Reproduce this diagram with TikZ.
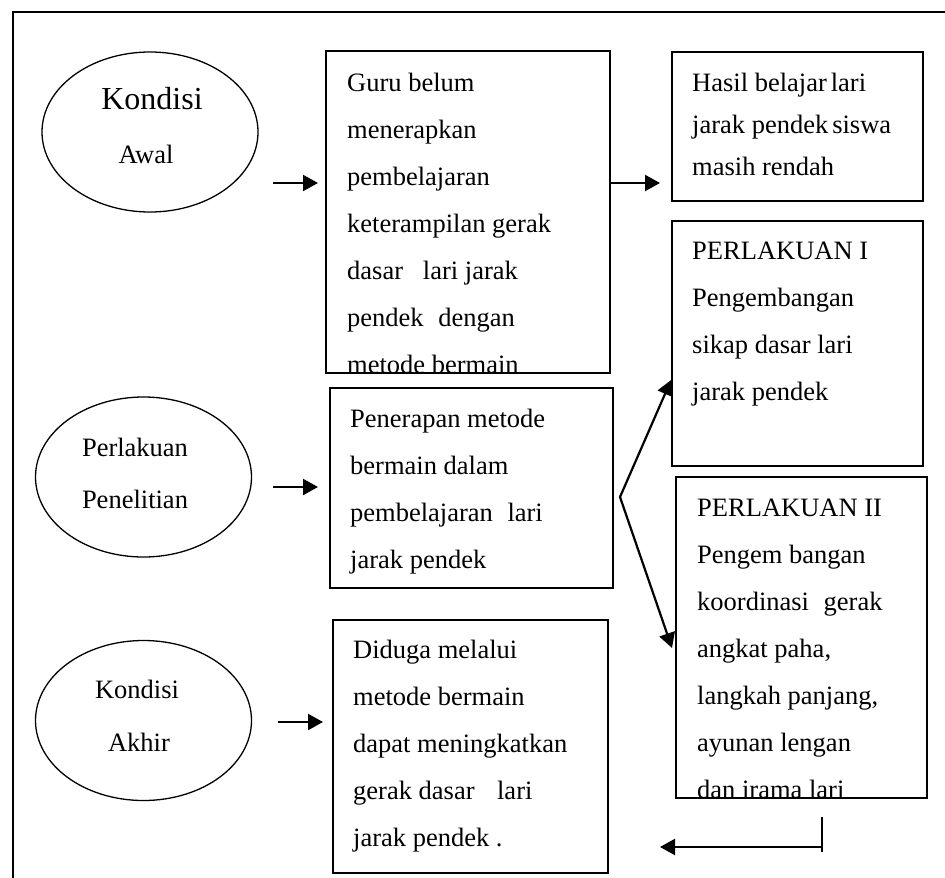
\documentclass[tikz,border=0pt]{standalone}
\usepackage{fontspec}
\setmainfont{Liberation Serif}
\usetikzlibrary{shapes.geometric,arrows.meta}

\begin{document}
\begin{tikzpicture}[x=1pt, y=-1pt,
  >={Triangle[length=15pt, width=16pt]},
  oval/.style={draw, ellipse, line width=1.3pt, inner sep=0pt, minimum width=216pt, minimum height=160pt},
  box/.style={draw, rectangle, line width=1.8pt, inner sep=0pt},
  txt/.style={anchor=north west, inner sep=0pt, align=left, font=\fontsize{26.5}{47}\selectfont},
  lbl/.style={anchor=base, inner sep=0pt, font=\fontsize{26.5}{32}\selectfont},
  arr/.style={->, line width=2.2pt}]

  \useasboundingbox (0,0) rectangle (945,878);

  % Frame
  \draw[line width=1.8pt] (13,878) -- (13,12) -- (945,12);

  % Kondisi awal
  \draw (150,132) node[oval] (awal) {};
  \draw (152,109) node[lbl, font=\fontsize{32}{38}\selectfont] (awalA) {Kondisi};
  \draw (146,163) node[lbl] (awalB) {Awal};
  \coordinate (a1s) at (273,183);
  \coordinate (a1e) at (318,183);
  \draw[arr] (a1s) -- (a1e);

  % Guru belum
  \draw (468,212) node[box, minimum width=284pt, minimum height=322pt] (guru) {};
  \draw (347,73) node[txt] (guruT) {Guru belum\\menerapkan\\pembelajaran\\keterampilan gerak\\dasar\hspace{0.5em} lari jarak\\pendek\hspace{0.3em} dengan\\metode bermain};
  \coordinate (a2e) at (660,183);
  \draw[arr] (guru.east |- a2e) -- (a2e);

  % Hasil belajar
  \draw (797.5,126.5) node[box, minimum width=251pt, minimum height=149pt] (hasil) {};
  \draw (692,73) node[txt, font=\fontsize{26.5}{42}\selectfont] (hasilT) {Hasil belajar\hspace{-0.1em} lari\\jarak pendek\hspace{-0.1em} siswa\\masih rendah};

  % Perlakuan I
  \draw (797.5,343.5) node[box, minimum width=251pt, minimum height=245pt] (perlA) {};
  \draw (692,241.5) node[txt] (perlAT) {PERLAKUAN I\\Pengembangan\\sikap dasar lari\\jarak pendek};

  % Perlakuan penelitian
  \draw (143.5,477) node[oval] (teliti) {};
  \draw (135,456) node[lbl] (telitiA) {Perlakuan};
  \draw (135,508) node[lbl] (telitiB) {Penelitian};
  \coordinate (a3s) at (273,487);
  \coordinate (a3e) at (318,487);
  \draw[arr] (a3s) -- (a3e);

  % Penerapan
  \draw (471.5,488) node[box, minimum width=283pt, minimum height=200pt] (terap) {};
  \draw (350,409) node[txt] (terapT) {Penerapan metode\\bermain dalam\\pembelajaran\hspace{0.3em} lari\\jarak pendek};

  % Cabang ke perlakuan
  \coordinate (fork) at (620,497);
  \coordinate (tipB) at (672,648);
  \draw[<->, line width=2.2pt] (perlA.west |- 0,380) -- (fork) -- (tipB);

  % Perlakuan II
  \draw (801.5,637.5) node[box, minimum width=251pt, minimum height=321pt] (perlB) {};
  \draw (697,498.5) node[txt] (perlBT) {PERLAKUAN II\\Pengem bangan\\koordinasi\hspace{0.3em} gerak\\angkat paha,\\langkah panjang,\\ayunan lengan\\dan irama lari};

  % Kondisi akhir
  \draw (143.5,720.5) node[oval] (akhir) {};
  \draw (137,698) node[lbl] (akhirA) {Kondisi};
  \draw (139,751) node[lbl] (akhirB) {Akhir};
  \coordinate (a4s) at (278,722);
  \coordinate (a4e) at (323,722);
  \draw[arr] (a4s) -- (a4e);

  % Diduga
  \draw (470.5,746.5) node[box, minimum width=275pt, minimum height=253pt] (duga) {};
  \draw (353,640) node[txt] (dugaT) {Diduga melalui\\metode bermain\\dapat meningkatkan\\gerak dasar\hspace{0.6em} lari\\jarak pendek .};

  % Kembali
  \coordinate (back) at (822,847);
  \coordinate (backE) at (660,847);
  \draw[line width=2pt] (822,817) -- (822,852);
  \draw[arr] (back) -- (backE);

\end{tikzpicture}
\end{document}
